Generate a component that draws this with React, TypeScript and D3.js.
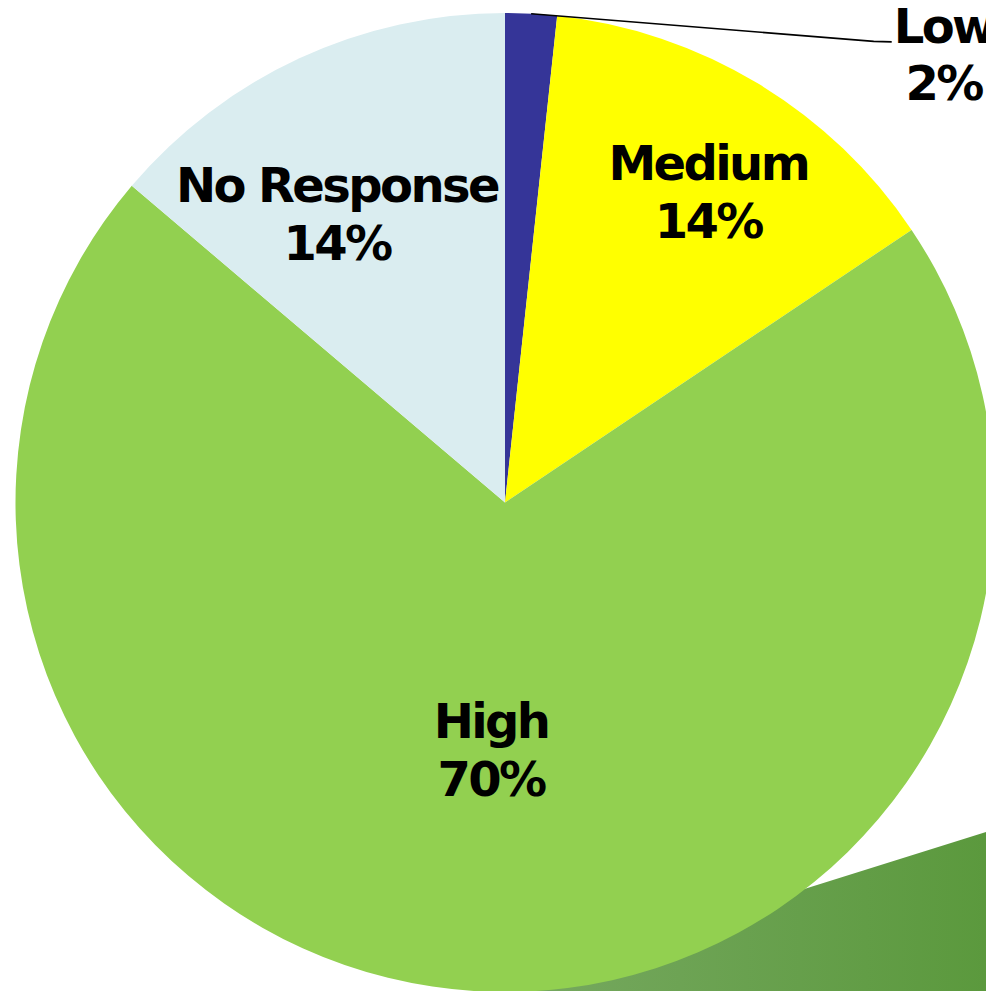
import React from "react";
import * as d3 from "d3";

const categories = ["Low", "Medium", "High", "No Response"];
const shares = [1.7, 13.9, 70.6, 13.8];
const shareLabels = ["2%", "14%", "70%", "14%"];
const colors = ["#353598", "#FFFF00", "#92D050", "#DAEDF0"];

const WIDTH = 986;
const HEIGHT = 991;
const CX = 505;
const CY = 502.5;
const R = 489.5;
const FONT = "Tahoma, 'DejaVu Sans', Verdana, sans-serif";

// layout tweaks so the labels sit where the slide placed them
const LABEL_NUDGE: Record<string, [number, number]> = {
  Medium: [21, -10],
  "No Response": [-20, 30],
};

const App: React.FC = () => {
  const pie = d3
    .pie<number>()
    .sort(null)
    .value((d) => d);
  const slices = pie(shares);

  const arc = d3
    .arc<d3.PieArcDatum<number>>()
    .innerRadius(0)
    .outerRadius(R);

  // big slices get their label nearer the centre
  const labelRadius = (d: d3.PieArcDatum<number>) =>
    d.endAngle - d.startAngle > Math.PI ? R * 0.505 : R * 0.72;

  const polar = (a: number, r: number): [number, number] => [
    Math.sin(a) * r,
    -Math.cos(a) * r,
  ];

  const textStyle = {
    fontFamily: FONT,
    fontWeight: 700,
    fontSize: 48,
    letterSpacing: "-2.6px",
  } as React.CSSProperties;

  return (
    <svg
      width={WIDTH}
      height={HEIGHT}
      viewBox={`0 0 ${WIDTH} ${HEIGHT}`}
      style={{ position: "absolute", left: 0, top: 0, display: "block" }}
    >
      <defs>
        <linearGradient id="bandGrad" gradientUnits="userSpaceOnUse" x1={560} y1={0} x2={986} y2={0}>
          <stop offset="0%" stopColor="#74A75D" />
          <stop offset="100%" stopColor="#5B993D" />
        </linearGradient>
      </defs>
      <rect width={WIDTH} height={HEIGHT} fill="#ffffff" />

      {/* decorative slide band in the corner */}
      <path d="M 400 1016 L 986 832 L 986 1000 L 400 1000 Z" fill="url(#bandGrad)" />

      <g transform={`translate(${CX},${CY})`}>
        {slices.map((d, i) => (
          <path key={categories[i]} d={arc(d) || ""} fill={colors[i]} />
        ))}

        {slices.map((d, i) => {
          const mid = (d.startAngle + d.endAngle) / 2;
          if (d.endAngle - d.startAngle < 0.2) {
            // tiny slice: label outside with leader line
            const [sx, sy] = polar(mid, R);
            const ex = R * 0.79;
            const ey = -R * 0.941;
            return (
              <g key={categories[i]}>
                <polyline
                  points={`${sx},${sy} ${ex - 18},${ey - 0.5} ${ex},${ey}`}
                  fill="none"
                  stroke="#000"
                  strokeWidth={1.6}
                />
                <text x={ex + 52} y={ey + 0.7} textAnchor="middle" style={textStyle}>
                  {categories[i]}
                </text>
                <text x={ex + 52} y={ey + 58} textAnchor="middle" style={textStyle}>
                  {shareLabels[i]}
                </text>
              </g>
            );
          }
          const [bx, by] = polar(mid, labelRadius(d));
          const [nx, ny] = LABEL_NUDGE[categories[i]] || [0, 0];
          const lx = bx + nx;
          const ly = by + ny;
          return (
            <g key={categories[i]}>
              <text x={lx} y={ly - 11} textAnchor="middle" style={textStyle}>
                {categories[i]}
              </text>
              <text x={lx} y={ly + 47} textAnchor="middle" style={textStyle}>
                {shareLabels[i]}
              </text>
            </g>
          );
        })}
      </g>
    </svg>
  );
};

export default App;
